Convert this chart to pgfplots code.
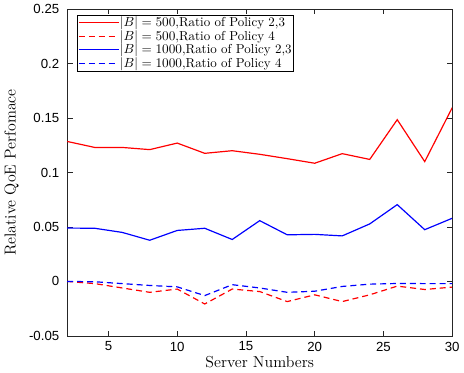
\documentclass[border=0pt]{standalone}
\usepackage{pgfplots}
\pgfplotsset{compat=1.18}
\usepackage{fontspec}
\newfontfamily\tickfont{Liberation Sans}
\definecolor{axgray}{rgb}{0.15,0.15,0.15}
\begin{document}
\begin{tikzpicture}
\begin{axis}[
  scale only axis,
  width=291pt, height=247pt,
  xmin=2, xmax=30, ymin=-0.05, ymax=0.25,
  xtick={5,10,15,20,25,30},
  ytick={-0.05,0,0.05,0.1,0.15,0.2,0.25},
  tick align=inside,
  major tick length=4pt,
  axis line style={axgray, line width=0.5pt},
  every tick/.style={axgray, line width=0.5pt},
  tick label style={font=\tickfont\fontsize{10}{12}\selectfont},
  /pgf/number format/assume math mode=true,
  yticklabel style={/pgf/number format/fixed, /pgf/number format/precision=2, xshift=-2.5pt},
  xticklabel style={yshift=-1pt},
  xlabel={Server Numbers},
  ylabel={Relative QoE Perfomace},
  label style={font=\fontsize{12}{14}\selectfont},
  xlabel style={yshift=3pt},
  ylabel style={yshift=1pt},
  legend style={at={(0.026,0.982)}, anchor=north west, font=\fontsize{9.8}{11}\selectfont,
    inner sep=0.6pt, row sep=0pt, legend cell align=left,
    nodes={inner sep=0.6pt}},
  legend image code/.code={\draw[#1] (0pt,0pt) -- (30pt,0pt);},
]
\addplot[red, line width=0.9pt] coordinates {(2,0.1285) (4,0.123) (6,0.123) (8,0.121) (10,0.127) (12,0.1176) (14,0.120) (16,0.1167) (18,0.1127) (20,0.1085) (22,0.1173) (24,0.112) (26,0.1485) (28,0.110) (30,0.1595)};
\addlegendentry{$|B|=500$,Ratio of Policy 2,3}
\addplot[red, line width=0.9pt, dash pattern=on 4.5pt off 3pt] coordinates {(2,0) (4,-0.002) (6,-0.006) (8,-0.010) (10,-0.007) (12,-0.0207) (14,-0.007) (16,-0.0093) (18,-0.0185) (20,-0.0123) (22,-0.0185) (24,-0.0123) (26,-0.0043) (28,-0.0074) (30,-0.0052)};
\addlegendentry{$|B|=500$,Ratio of Policy 4}
\addplot[blue, line width=0.9pt] coordinates {(2,0.049) (4,0.0488) (6,0.045) (8,0.0378) (10,0.0468) (12,0.0488) (14,0.0385) (16,0.0558) (18,0.0428) (20,0.0432) (22,0.0418) (24,0.0528) (26,0.0705) (28,0.0475) (30,0.058)};
\addlegendentry{$|B|=1000$,Ratio of Policy 2,3}
\addplot[blue, line width=0.9pt, dash pattern=on 4.5pt off 3pt] coordinates {(2,0) (4,-0.0003) (6,-0.002) (8,-0.0037) (10,-0.005) (12,-0.013) (14,-0.003) (16,-0.006) (18,-0.010) (20,-0.009) (22,-0.0046) (24,-0.0025) (26,-0.0019) (28,-0.002) (30,-0.002)};
\addlegendentry{$|B|=1000$,Ratio of Policy 4}
\end{axis}
\end{tikzpicture}
\end{document}
